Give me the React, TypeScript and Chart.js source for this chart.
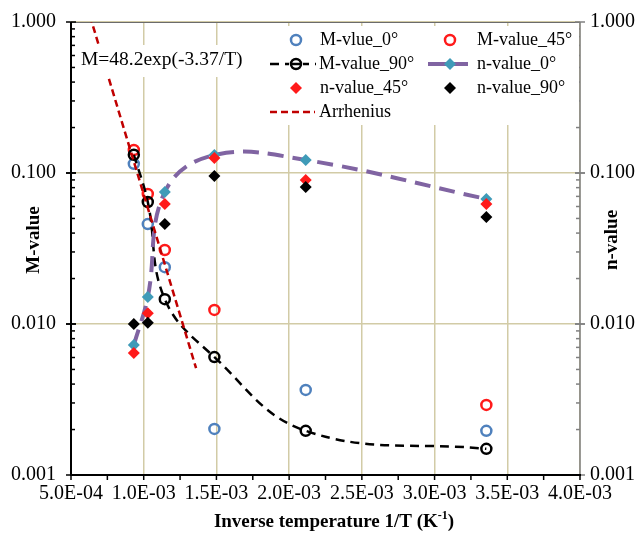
import React, { useEffect, useRef } from 'react';
import { Chart, registerables } from 'chart.js';

Chart.register(...registerables);

// ---- data ----
const invT = [9.32e-4, 1.028e-3, 1.145e-3, 1.486e-3, 2.114e-3, 3.356e-3];
const mValue0 = [0.115, 0.0459, 0.0238, 0.00202, 0.00366, 0.00196];
const mValue45 = [0.142, 0.0726, 0.0309, 0.0124, null, 0.00291];
const mValue90 = [0.132, 0.0643, 0.0146, 0.00604, 0.00196, 0.00149];
const nValue0 = [0.00726, 0.0151, 0.0748, 0.1316, 0.122, 0.0673];
const nValue45 = [0.00643, 0.0118, 0.0623, 0.1257, 0.0899, 0.0623];
const nValue90 = [0.0100, 0.0102, 0.0459, 0.0955, 0.0807, 0.0511];
const arrheniusX = [6.3e-4, 1.36e-3];
const arrheniusY = [1.1, 0.0051];
const yDecades = [0.001, 0.01, 0.1, 1];
const seriesNames = ['M-vlue_0°', 'M-value_45°', 'M-value_90°', 'n-value_0°', 'n-value_45°', 'n-value_90°', 'Arrhenius'];
const formulaText = 'M=48.2exp(-3.37/T)';
const xTitle = 'Inverse temperature 1/T (K';
const xTitleSup = '-1';
const yTitleLeft = 'M-value';
const yTitleRight = 'n-value';

const FONT = "'Liberation Serif', 'Times New Roman', serif";
const BLUE = '#4F81BD';
const RED = '#FF1A1A';
const TEAL = '#3F9BB8';
const PURPLE = '#8064A2';
const DARKRED = '#C00000';
const GRID = '#D2CBA6';

const pts = (xs: number[], ys: (number | null)[]) =>
  xs.map((x, i) => (ys[i] == null ? null : { x, y: ys[i] as number })).filter(Boolean) as { x: number; y: number }[];

const fmtE = (v: number) => {
  const [m, e] = v.toExponential(1).split('e');
  const n = parseInt(e, 10);
  const s = n < 0 ? '-' : '+';
  const a = Math.abs(n).toString().padStart(2, '0');
  return `${m}E${s}${a}`;
};

function drawMarker(ctx: CanvasRenderingContext2D, kind: string, x: number, y: number, r: number, stroke: string, fill: string | null, lw: number) {
  ctx.save();
  ctx.setLineDash([]);
  ctx.beginPath();
  if (kind === 'circle') {
    ctx.arc(x, y, r, 0, Math.PI * 2);
  } else {
    ctx.moveTo(x, y - r);
    ctx.lineTo(x + r, y);
    ctx.lineTo(x, y + r);
    ctx.lineTo(x - r, y);
    ctx.closePath();
  }
  if (fill) {
    ctx.fillStyle = fill;
    ctx.fill();
  }
  if (lw > 0) {
    ctx.strokeStyle = stroke;
    ctx.lineWidth = lw;
    ctx.stroke();
  }
  ctx.restore();
}

function dashLine(ctx: CanvasRenderingContext2D, x1: number, x2: number, y: number, color: string, lw: number, dash: number[]) {
  ctx.save();
  ctx.strokeStyle = color;
  ctx.lineWidth = lw;
  ctx.setLineDash(dash);
  ctx.beginPath();
  ctx.moveTo(x1, y);
  ctx.lineTo(x2, y);
  ctx.stroke();
  ctx.restore();
}

const framePlugin = {
  id: 'frame',
  beforeDatasetsDraw(chart: any) {
    const { ctx, chartArea: a, scales } = chart;
    const x = scales.x;
    const y = scales.y;
    ctx.save();
    // top border
    ctx.strokeStyle = '#6b6b6b';
    ctx.lineWidth = 1;
    ctx.beginPath();
    ctx.moveTo(a.left, a.top + 0.5);
    ctx.lineTo(a.right, a.top + 0.5);
    ctx.stroke();
    // right axis (gray)
    ctx.strokeStyle = '#808080';
    ctx.lineWidth = 1.5;
    ctx.beginPath();
    ctx.moveTo(a.right, a.top);
    ctx.lineTo(a.right, a.bottom);
    ctx.stroke();
    for (let d = 0; d < 3; d++) {
      for (let k = 1; k <= 10; k++) {
        const v = yDecades[d] * k;
        const py = y.getPixelForValue(v);
        const major = k === 1 || k === 10;
        ctx.beginPath();
        ctx.moveTo(a.right - (major ? 5 : 4), py);
        ctx.lineTo(a.right + (major ? 5 : 0), py);
        ctx.stroke();
      }
    }
    // left axis (black)
    ctx.strokeStyle = '#000';
    ctx.lineWidth = 2;
    ctx.beginPath();
    ctx.moveTo(a.left, a.top);
    ctx.lineTo(a.left, a.bottom);
    ctx.stroke();
    ctx.lineWidth = 1.5;
    for (let d = 0; d < 3; d++) {
      for (let k = 1; k <= 10; k++) {
        const v = yDecades[d] * k;
        const py = y.getPixelForValue(v);
        const major = k === 1 || k === 10;
        ctx.beginPath();
        ctx.moveTo(a.left - (major ? 5 : 1), py);
        ctx.lineTo(a.left + (major ? 5 : 4), py);
        ctx.stroke();
      }
    }
    // bottom axis
    ctx.lineWidth = 2;
    ctx.beginPath();
    ctx.moveTo(a.left - 1, a.bottom);
    ctx.lineTo(a.right + 1, a.bottom);
    ctx.stroke();
    ctx.lineWidth = 1.5;
    for (let v = 5e-4; v <= 4.0001e-3; v += 2.5e-4) {
      const px = x.getPixelForValue(v);
      ctx.beginPath();
      ctx.moveTo(px, a.bottom);
      ctx.lineTo(px, a.bottom + 5);
      ctx.stroke();
    }
    ctx.restore();
  },
  afterDraw(chart: any) {
    const { ctx, chartArea: a } = chart;
    ctx.save();
    // white boxes behind annotation and legend
    ctx.fillStyle = '#fff';
    ctx.fillRect(76, 45, 170, 32);
    ctx.fillRect(266, a.top + 4, a.right - 267, 125 - a.top - 4);

    ctx.fillStyle = '#000';
    ctx.textBaseline = 'middle';
    // formula annotation
    ctx.font = `19.5px ${FONT}`;
    ctx.textAlign = 'left';
    ctx.fillText(formulaText, 81, 60);

    // legend
    ctx.font = `18px ${FONT}`;
    const r1 = 40, r2 = 64, r3 = 88, r4 = 112;
    const c1 = 296, c2 = 450, t1 = 320, t2 = 477;
    drawMarker(ctx, 'circle', c1, r1, 5, BLUE, null, 2.5);
    ctx.fillText(seriesNames[0], t1, r1);
    drawMarker(ctx, 'circle', c2, r1, 5, RED, null, 2.5);
    ctx.fillText(seriesNames[1], t2, r1);
    dashLine(ctx, 270, 316, r2, '#000', 2.5, [9, 6]);
    ctx.save();
    ctx.fillStyle = '#fff';
    ctx.fillRect(289, r2 - 7, 14, 14);
    ctx.restore();
    drawMarker(ctx, 'circle', c1, r2, 5, '#000', null, 2.5);
    ctx.beginPath();
    ctx.lineWidth = 2.5;
    ctx.strokeStyle = '#000';
    ctx.moveTo(291, r2);
    ctx.lineTo(301, r2);
    ctx.stroke();
    ctx.fillText(seriesNames[2], 319, r2);
    dashLine(ctx, 428, 468, r2, PURPLE, 4, []);
    drawMarker(ctx, 'diamond', c2, r2, 6, TEAL, TEAL, 0);
    ctx.fillText(seriesNames[3], t2, r2);
    drawMarker(ctx, 'diamond', c1, r3, 6, RED, RED, 0);
    ctx.fillText(seriesNames[4], t1, r3);
    drawMarker(ctx, 'diamond', c2, r3, 6, '#000', '#000', 0);
    ctx.fillText(seriesNames[5], t2, r3);
    dashLine(ctx, 270, 315, r4, DARKRED, 2.5, [7, 4]);
    ctx.fillText(seriesNames[6], 319, r4);

    // axis titles
    ctx.font = `bold 19px ${FONT}`;
    ctx.save();
    ctx.translate(34, 240);
    ctx.rotate(-Math.PI / 2);
    ctx.textAlign = 'center';
    ctx.fillText(yTitleLeft, 0, 0);
    ctx.restore();
    ctx.save();
    ctx.translate(612, 240);
    ctx.rotate(-Math.PI / 2);
    ctx.textAlign = 'center';
    ctx.fillText(yTitleRight, 0, 0);
    ctx.restore();

    // x title with superscript
    const mainFont = `bold 19px ${FONT}`;
    const supFont = `bold 12px ${FONT}`;
    ctx.font = mainFont;
    const w1 = ctx.measureText(xTitle).width;
    const w3 = ctx.measureText(')').width;
    ctx.font = supFont;
    const w2 = ctx.measureText(xTitleSup).width;
    const total = w1 + w2 + w3;
    let sx = 334 - total / 2;
    const ty = 522;
    ctx.textAlign = 'left';
    ctx.font = mainFont;
    ctx.fillText(xTitle, sx, ty);
    sx += w1;
    ctx.font = supFont;
    ctx.fillText(xTitleSup, sx, ty - 6);
    sx += w2;
    ctx.font = mainFont;
    ctx.fillText(')', sx, ty);
    ctx.restore();
  },
};

export default function App() {
  const ref = useRef<HTMLCanvasElement | null>(null);
  useEffect(() => {
    if (!ref.current) return;
    const chart = new Chart(ref.current, {
      type: 'scatter',
      data: {
        datasets: [
          {
            label: seriesNames[6],
            data: pts(arrheniusX, arrheniusY),
            showLine: true,
            borderColor: DARKRED,
            borderWidth: 2.5,
            borderDash: [7, 4],
            pointRadius: 0,
            yAxisID: 'y',
            order: 0,
          },
          {
            label: seriesNames[5],
            data: pts(invT, nValue90),
            pointStyle: 'rectRot',
            pointRadius: 6,
            pointBorderWidth: 0,
            pointBackgroundColor: '#000',
            pointBorderColor: '#000',
            yAxisID: 'y2',
            order: 1,
          },
          {
            label: seriesNames[4],
            data: pts(invT, nValue45),
            pointStyle: 'rectRot',
            pointRadius: 6,
            pointBorderWidth: 0,
            pointBackgroundColor: RED,
            pointBorderColor: RED,
            yAxisID: 'y2',
            order: 2,
          },
          {
            label: seriesNames[3],
            data: pts(invT, nValue0),
            showLine: true,
            tension: 0.4,
            borderColor: PURPLE,
            borderWidth: 4,
            borderDash: [16, 9],
            pointStyle: 'rectRot',
            pointRadius: 6,
            pointBorderWidth: 0,
            pointBackgroundColor: TEAL,
            pointBorderColor: TEAL,
            yAxisID: 'y2',
            order: 3,
          },
          {
            label: seriesNames[2],
            data: pts(invT, mValue90),
            showLine: true,
            tension: 0.4,
            borderColor: '#000',
            borderWidth: 2.5,
            borderDash: [9, 6],
            pointStyle: 'circle',
            pointRadius: 5,
            pointBorderWidth: 2.5,
            pointBackgroundColor: 'rgba(0,0,0,0)',
            pointBorderColor: '#000',
            yAxisID: 'y',
            order: 4,
          },
          {
            label: seriesNames[1],
            data: pts(invT, mValue45),
            pointStyle: 'circle',
            pointRadius: 5,
            pointBorderWidth: 2.5,
            pointBackgroundColor: 'rgba(0,0,0,0)',
            pointBorderColor: RED,
            yAxisID: 'y',
            order: 5,
          },
          {
            label: seriesNames[0],
            data: pts(invT, mValue0),
            pointStyle: 'circle',
            pointRadius: 5,
            pointBorderWidth: 2.5,
            pointBackgroundColor: 'rgba(0,0,0,0)',
            pointBorderColor: BLUE,
            yAxisID: 'y',
            order: 6,
          },
        ],
      },
      options: {
        animation: false,
        responsive: false,
        devicePixelRatio: 1,
        layout: { padding: { top: 22, left: 0, right: 0, bottom: 0 } },
        plugins: { legend: { display: false }, tooltip: { enabled: false } },
        scales: {
          x: {
            type: 'linear',
            min: 5e-4,
            max: 4e-3,
            ticks: {
              stepSize: 5e-4,
              color: '#000',
              font: { family: FONT, size: 20 },
              padding: 7,
              maxRotation: 0,
              callback: (v: any) => fmtE(Number(v)),
            },
            grid: { color: GRID, lineWidth: 1.5, drawTicks: false },
            border: { display: false },
            afterFit: (s: any) => {
              s.height = 59;
            },
          },
          y: {
            type: 'logarithmic',
            position: 'left',
            min: 0.001,
            max: 1,
            afterBuildTicks: (s: any) => {
              s.ticks = yDecades.map((v) => ({ value: v }));
            },
            ticks: {
              color: '#000',
              font: { family: FONT, size: 20, lineHeight: 0.6 },
              padding: 15,
              callback: (v: any) => Number(v).toFixed(3),
            },
            grid: { color: GRID, lineWidth: 1.5, drawTicks: false },
            border: { display: false },
            afterFit: (s: any) => {
              s.width = 71;
            },
          },
          y2: {
            type: 'logarithmic',
            position: 'right',
            min: 0.001,
            max: 1,
            afterBuildTicks: (s: any) => {
              s.ticks = yDecades.map((v) => ({ value: v }));
            },
            ticks: {
              color: '#000',
              font: { family: FONT, size: 20, lineHeight: 0.6 },
              padding: 10,
              callback: (v: any) => Number(v).toFixed(3),
            },
            grid: { display: false, drawTicks: false },
            border: { display: false },
            afterFit: (s: any) => {
              s.width = 64;
            },
          },
        },
      },
      plugins: [framePlugin],
    });
    return () => chart.destroy();
  }, []);
  return (
    <div style={{ position: 'absolute', left: 0, top: 0, width: 644, height: 534, background: '#fff' }}>
      <canvas ref={ref} width={644} height={534} style={{ width: 644, height: 534, display: 'block' }} />
    </div>
  );
}
